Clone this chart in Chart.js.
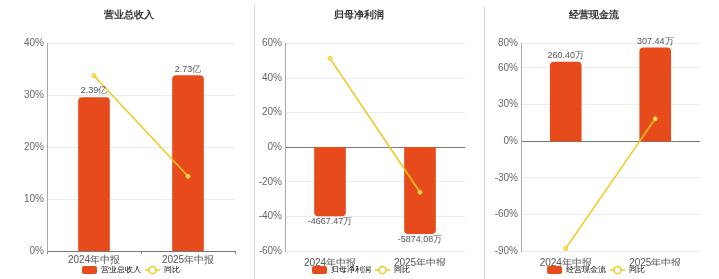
<!DOCTYPE html>
<html>
<head>
<meta charset="utf-8">
<script src="https://cdn.jsdelivr.net/npm/chart.js@4.4.1/dist/chart.umd.min.js"></script>
<style>
  body { margin: 0; background: #fff; }
  #wrap { position: relative; width: 719px; height: 279px; overflow: hidden; }
  canvas { position: absolute; top: 0; }
  .sep { position: absolute; width: 1px; background: #d6d6d6; bottom: 0; }
</style>
</head>
<body>
<div id="wrap">
  <canvas id="c1" width="240" height="279" style="left:0"></canvas>
  <canvas id="c2" width="240" height="279" style="left:240px"></canvas>
  <canvas id="c3" width="239" height="279" style="left:480px"></canvas>
  <div class="sep" style="left:254px; top:5px"></div>
  <div class="sep" style="left:484px; top:7px"></div>
</div>
<script>
// 数据
const categories = ['2024年中报', '2025年中报'];

const revenueValues = [2.39, 2.73];        // 亿
const revenueYoy = [33.8, 14.4];           // %
const revenueTicks = [0, 10, 20, 30, 40];

const profitValues = [-4667.47, -5874.08]; // 万
const profitYoy = [51.4, -26.0];
const profitTicks = [-60, -40, -20, 0, 20, 40, 60];

const cashValues = [260.40, 307.44];       // 万
const cashYoy = [-87.9, 18.4];
const cashTicks = [-90, -60, -30, 0, 30, 60, 80];

const BAR_COLOR = '#E84B1B';
const LINE_COLOR = '#F3C81C';

// 图例小图标 (左边留 4px 作为间距)
function barIcon() {
  const c = document.createElement('canvas');
  c.width = 19; c.height = 8;
  const g = c.getContext('2d');
  g.fillStyle = BAR_COLOR;
  g.beginPath();
  g.roundRect(4, 0, 15, 8, 2);
  g.fill();
  return c;
}
function lineIcon() {
  const c = document.createElement('canvas');
  c.width = 19; c.height = 10;
  const g = c.getContext('2d');
  g.strokeStyle = LINE_COLOR;
  g.lineWidth = 1.5;
  g.beginPath(); g.moveTo(4, 5); g.lineTo(19, 5); g.stroke();
  g.fillStyle = '#fff';
  g.beginPath(); g.arc(11.5, 5, 3.6, 0, Math.PI * 2); g.fill(); g.stroke();
  return c;
}
const icons = [barIcon(), lineIcon()];

// 柱子上的数值标签
const barLabels = {
  id: 'barLabels',
  afterDatasetsDraw(chart, args, opts) {
    const ctx = chart.ctx;
    const meta = chart.getDatasetMeta(0);
    ctx.save();
    ctx.font = '9px Arial, sans-serif';
    ctx.fillStyle = '#555';
    ctx.textAlign = 'center';
    meta.data.forEach((bar, i) => {
      const v = chart.data.datasets[0].data[i];
      const txt = v.toFixed(2) + opts.unit;
      if (v >= 0) {
        ctx.textBaseline = 'bottom';
        ctx.fillText(txt, bar.x, bar.y - 2);
      } else {
        ctx.textBaseline = 'top';
        ctx.fillText(txt, bar.x, bar.y + 1);
      }
    });
    ctx.restore();
  }
};

function makeChart(id, p) {
  new Chart(document.getElementById(id), {
    type: 'bar',
    data: {
      labels: categories,
      datasets: [
        { label: p.name, data: p.values, yAxisID: 'y1', order: 1,
          backgroundColor: BAR_COLOR, barThickness: 31, borderRadius: 4, borderSkipped: 'start' },
        { label: '同比', type: 'line', data: p.yoy, yAxisID: 'y', order: 0,
          borderColor: LINE_COLOR, borderWidth: 1.5, pointRadius: 2, pointBorderWidth: 1,
          pointBackgroundColor: '#FBE27A', pointBorderColor: LINE_COLOR, tension: 0 }
      ]
    },
    options: {
      responsive: false,
      animation: false,
      devicePixelRatio: 1,
      layout: { padding: { left: p.padL, right: p.padR, top: 0, bottom: 0 } },
      plugins: {
        tooltip: { enabled: false },
        title: {
          display: true, text: p.name, color: '#333',
          font: { size: 10, weight: 'bold' },
          padding: { top: 9, bottom: 22.5 }
        },
        legend: {
          position: 'bottom',
          maxHeight: 13,
          labels: {
            usePointStyle: true, pointStyleWidth: 19, boxHeight: 8,
            padding: 0, color: '#555', font: { size: 8 },
            generateLabels(chart) {
              return chart.data.datasets.map((ds, i) => ({
                text: ds.label, datasetIndex: i, pointStyle: icons[i],
                fillStyle: 'transparent', strokeStyle: 'transparent', lineWidth: 0, hidden: false
              }));
            }
          }
        },
        barLabels: { unit: p.unit }
      },
      scales: {
        x: {
          border: { display: false },
          grid: { display: p.xTicks, drawOnChartArea: false, tickLength: 3, color: '#888' },
          ticks: { color: '#555', font: { size: 10 }, padding: p.xTicks ? 0 : 3 },
          afterFit(s) { s.height = 15; }
        },
        y: {
          min: p.ticks[0], max: p.ticks[p.ticks.length - 1],
          border: { display: true, color: '#aaa' },
          grid: {
            drawTicks: false,
            color: c => (c.tick && c.tick.value === 0 ? '#777' : '#E8ECF3')
          },
          ticks: { color: '#666', font: { size: 10 }, padding: 3, callback: v => v + '%' },
          afterBuildTicks(s) { s.ticks = p.ticks.map(v => ({ value: v })); },
          afterFit(s) { s.width = p.axisW; }
        },
        y1: { display: false, min: p.barMin, max: p.barMax }
      }
    },
    plugins: [barLabels]
  });
}

makeChart('c1', { name: '营业总收入', values: revenueValues, yoy: revenueYoy, ticks: revenueTicks,
  unit: '亿', barMin: 0, barMax: 3.23, padL: 22, padR: 4, axisW: 25, xTicks: true });
makeChart('c2', { name: '归母净利润', values: profitValues, yoy: profitYoy, ticks: profitTicks,
  unit: '万', barMin: -7050, barMax: 7050, padL: 13, padR: 15, axisW: 32, xTicks: false });
makeChart('c3', { name: '经营现金流', values: cashValues, yoy: cashYoy, ticks: cashTicks,
  unit: '万', barMin: -362, barMax: 322, padL: 8, padR: 19, axisW: 33, xTicks: false });
</script>
</body>
</html>
